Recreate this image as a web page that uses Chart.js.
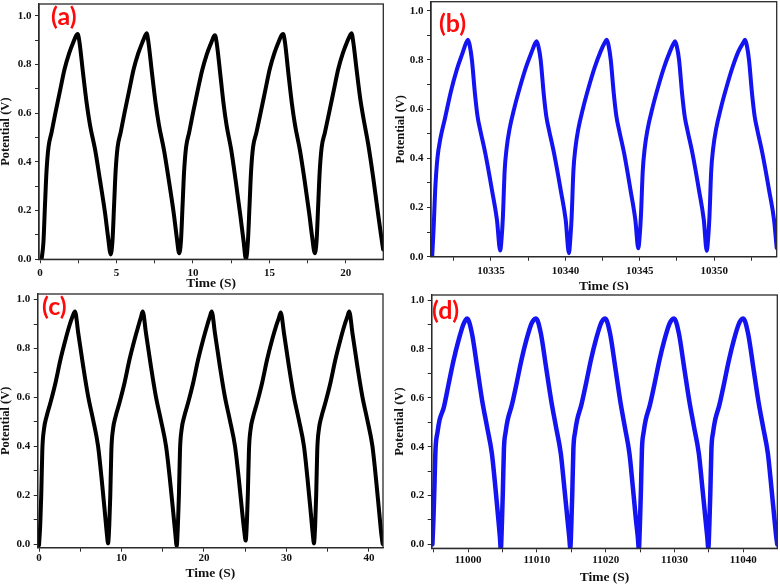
<!DOCTYPE html>
<html><head><meta charset="utf-8">
<script src="https://cdn.jsdelivr.net/npm/chart.js@4.4.0/dist/chart.umd.min.js"></script>
<style>
html,body{margin:0;padding:0;background:#fff;width:780px;height:585px;overflow:hidden;position:relative}
canvas{position:absolute;background:#fff}
</style></head><body>
<canvas id="ca" width="390" height="300" style="left:0;top:0"></canvas>
<canvas id="cb" width="390" height="300" style="left:390px;top:0"></canvas>
<canvas id="cc" width="390" height="295" style="left:0;top:290px"></canvas>
<canvas id="cd" width="390" height="295" style="left:390px;top:290px"></canvas>
<script>
// ---------- Panel (a) ----------
const timeA = [
 0.10,0.22,0.32,0.42,0.55,0.75,1.00,1.30,1.60,1.90,2.20,2.38,2.46,
 2.58,2.80,3.05,3.27,3.60,3.92,4.25,4.45,4.62,
 4.74,4.84,4.94,5.07,5.27,5.52,5.82,6.12,6.42,6.72,6.89,6.97,
 7.09,7.31,7.56,7.78,8.10,8.42,8.74,8.94,9.10,
 9.22,9.32,9.42,9.55,9.75,10.00,10.30,10.60,10.90,11.20,11.36,11.44,
 11.56,11.77,12.00,12.20,12.50,12.80,13.10,13.30,13.47,
 13.60,13.70,13.80,13.93,14.15,14.42,14.72,15.02,15.32,15.62,15.80,15.90,
 16.02,16.23,16.47,16.68,16.99,17.30,17.60,17.80,17.97,
 18.09,18.19,18.29,18.42,18.63,18.90,19.20,19.50,19.80,20.10,20.28,20.37,
 20.49,20.70,20.94,21.15,21.47,21.78,22.10,22.30,22.44
];
const potentialA = [
 0.00,0.07,0.22,0.36,0.46,0.52,0.60,0.69,0.78,0.845,0.895,0.92,0.925,
 0.89,0.77,0.64,0.55,0.45,0.325,0.19,0.09,0.02,
 0.08,0.22,0.36,0.46,0.52,0.60,0.69,0.78,0.845,0.895,0.92,0.928,
 0.89,0.77,0.64,0.55,0.45,0.325,0.19,0.09,0.025,
 0.08,0.22,0.36,0.46,0.52,0.60,0.69,0.775,0.84,0.89,0.915,0.92,
 0.885,0.77,0.64,0.55,0.45,0.32,0.18,0.08,0.00,
 0.08,0.22,0.36,0.46,0.52,0.60,0.69,0.78,0.845,0.895,0.92,0.925,
 0.89,0.77,0.64,0.55,0.45,0.325,0.19,0.09,0.025,
 0.08,0.22,0.36,0.46,0.52,0.60,0.69,0.78,0.845,0.895,0.92,0.928,
 0.89,0.78,0.66,0.58,0.47,0.34,0.19,0.10,0.04
];
const xMajorA = [0,5,10,15,20];
const xMinorA = [2.5,7.5,12.5,17.5];

// ---------- Panel (b) ----------
const timeB = [
 10331.05,10331.15,10331.25,10331.40,10331.60,10331.90,10332.30,10332.70,10333.10,10333.33,10333.45,
 10333.57,10333.72,10333.92,10334.10,10334.28,10334.62,10335.07,10335.40,10335.62,
 10335.72,10335.80,10335.92,10336.05,10336.25,10336.55,10336.95,10337.35,10337.75,10337.97,10338.07,
 10338.19,10338.34,10338.54,10338.72,10338.90,10339.24,10339.69,10340.02,10340.24,
 10340.34,10340.42,10340.54,10340.67,10340.87,10341.17,10341.57,10341.97,10342.37,10342.64,10342.78,
 10342.90,10343.05,10343.25,10343.43,10343.61,10343.95,10344.38,10344.70,10344.90,
 10345.00,10345.08,10345.20,10345.33,10345.53,10345.83,10346.23,10346.63,10347.03,10347.26,10347.37,
 10347.49,10347.64,10347.84,10348.02,10348.20,10348.54,10348.98,10349.30,10349.50,
 10349.60,10349.68,10349.80,10349.93,10350.13,10350.43,10350.83,10351.23,10351.63,10351.95,10352.07,
 10352.19,10352.34,10352.54,10352.72,10352.90,10353.24,10353.69,10354.02,10354.20
];
const potentialB = [
 0.00,0.12,0.27,0.40,0.48,0.56,0.67,0.76,0.83,0.87,0.882,
 0.86,0.80,0.665,0.57,0.515,0.42,0.27,0.15,0.025,
 0.08,0.16,0.35,0.44,0.52,0.60,0.69,0.77,0.835,0.868,0.876,
 0.855,0.80,0.665,0.57,0.515,0.42,0.27,0.15,0.014,
 0.08,0.16,0.35,0.44,0.52,0.60,0.69,0.77,0.835,0.87,0.882,
 0.86,0.80,0.665,0.57,0.515,0.42,0.27,0.15,0.034,
 0.09,0.17,0.35,0.44,0.52,0.60,0.69,0.77,0.835,0.866,0.876,
 0.855,0.80,0.665,0.57,0.515,0.42,0.27,0.15,0.024,
 0.08,0.16,0.35,0.44,0.52,0.60,0.69,0.77,0.835,0.87,0.882,
 0.86,0.80,0.665,0.57,0.515,0.42,0.27,0.15,0.035
];
const xMajorB = [10335,10340,10345,10350];
const xMinorB = [10332.5,10337.5,10342.5,10347.5,10352.5];

// ---------- Panel (c) ----------
const timeC = [
 0.00,0.15,0.27,0.40,0.60,0.90,1.40,2.00,2.60,3.20,3.70,4.05,4.36,
 4.76,5.36,5.96,6.56,7.16,7.58,7.98,8.23,8.37,
 8.52,8.64,8.77,8.97,9.27,9.77,10.37,10.97,11.57,12.07,12.37,12.57,
 12.97,13.57,14.17,14.77,15.40,15.85,16.27,16.53,16.69,
 16.84,16.96,17.09,17.29,17.59,18.09,18.69,19.29,19.89,20.39,20.71,20.93,
 21.33,21.93,22.53,23.13,23.76,24.21,24.63,24.89,25.05,
 25.20,25.32,25.45,25.65,25.95,26.45,27.05,27.65,28.25,28.75,29.08,29.30,
 29.70,30.30,30.90,31.50,32.12,32.54,32.94,33.19,33.33,
 33.48,33.60,33.73,33.93,34.23,34.73,35.33,35.93,36.53,37.03,37.38,37.60,
 38.00,38.60,39.20,39.80,40.42,40.84,41.24,41.50,41.66
];
const potentialC = [
 -0.005,0.08,0.20,0.385,0.47,0.52,0.58,0.66,0.755,0.835,0.895,0.93,0.951,
 0.862,0.726,0.603,0.508,0.40,0.27,0.13,0.04,0.003,
 0.08,0.20,0.385,0.47,0.52,0.58,0.66,0.755,0.835,0.895,0.93,0.951,
 0.862,0.726,0.603,0.508,0.40,0.27,0.13,0.04,-0.008,
 0.08,0.20,0.385,0.47,0.52,0.58,0.66,0.755,0.835,0.895,0.93,0.951,
 0.862,0.726,0.603,0.508,0.40,0.27,0.13,0.05,0.014,
 0.09,0.21,0.385,0.47,0.52,0.58,0.66,0.755,0.835,0.893,0.925,0.947,
 0.862,0.726,0.603,0.508,0.40,0.27,0.13,0.04,0.003,
 0.08,0.20,0.385,0.47,0.52,0.58,0.66,0.755,0.835,0.895,0.93,0.951,
 0.862,0.726,0.603,0.508,0.40,0.27,0.13,0.04,0.00
];
const xMajorC = [0,10,20,30,40];
const xMinorC = [5,15,25,35];

// ---------- Panel (d) ----------
const timeD = [
 10994.80,10994.95,10995.10,10995.25,10995.55,10995.85,10996.45,10997.15,10997.85,10998.60,10999.30,10999.65,10999.85,
 11000.55,11001.30,11002.03,11002.75,11003.45,11003.95,11004.40,11004.62,11004.75,
 11004.90,11005.05,11005.20,11005.45,11005.75,11006.35,11007.05,11007.75,11008.45,11009.15,11009.55,11009.87,
 11010.57,11011.32,11012.07,11012.77,11013.47,11013.97,11014.45,11014.70,11014.85,
 11015.00,11015.15,11015.30,11015.55,11015.85,11016.45,11017.15,11017.85,11018.55,11019.25,11019.62,11019.93,
 11020.63,11021.38,11022.10,11022.78,11023.45,11023.94,11024.40,11024.67,11024.82,
 11024.97,11025.12,11025.27,11025.52,11025.82,11026.42,11027.12,11027.82,11028.52,11029.22,11029.62,11029.94,
 11030.64,11031.39,11032.14,11032.84,11033.54,11034.04,11034.52,11034.77,11034.92,
 11035.07,11035.22,11035.37,11035.62,11035.92,11036.52,11037.22,11037.92,11038.62,11039.32,11039.70,11040.00,
 11040.70,11041.45,11042.18,11042.88,11043.58,11044.08,11044.55,11044.80,11044.95
];
const potentialD = [
 0.00,0.10,0.24,0.386,0.46,0.51,0.56,0.655,0.75,0.835,0.90,0.92,0.925,
 0.864,0.727,0.59,0.481,0.372,0.236,0.10,0.03,-0.02,
 0.08,0.22,0.39,0.46,0.51,0.57,0.66,0.755,0.835,0.90,0.92,0.925,
 0.864,0.727,0.59,0.481,0.372,0.236,0.10,0.03,-0.015,
 0.08,0.22,0.39,0.46,0.51,0.57,0.66,0.755,0.835,0.90,0.92,0.925,
 0.864,0.727,0.59,0.481,0.372,0.236,0.10,0.03,-0.02,
 0.08,0.22,0.39,0.46,0.51,0.57,0.66,0.755,0.835,0.90,0.92,0.925,
 0.864,0.727,0.59,0.481,0.372,0.236,0.10,0.03,-0.015,
 0.08,0.22,0.39,0.46,0.51,0.57,0.66,0.755,0.835,0.90,0.92,0.925,
 0.864,0.727,0.59,0.481,0.372,0.236,0.10,0.03,0.00
];
const xMajorD = [11000,11010,11020,11030,11040];
const xMinorD = [10995,11005,11015,11025,11035];

// ---------- shared y ticks ----------
const yMajor = [0,0.2,0.4,0.6,0.8,1.0];
const yMinor = [0.1,0.3,0.5,0.7,0.9];
const yLabels = ['0.0','0.2','0.4','0.6','0.8','1.0'];

const xTitle = 'Time (S)';
const yTitle = 'Potential (V)';

const AXIS = '#2a2a2a';
const SERIF = '"Liberation Serif", "Times New Roman", serif';

const panelPlugin = {
  id: 'panelDeco',
  afterDraw(chart, args, opts) {
    const {ctx, chartArea: a} = chart;
    ctx.save();
    ctx.strokeStyle = AXIS;
    ctx.lineWidth = 1.3;
    ctx.strokeRect(a.left, a.top, a.right - a.left, a.bottom - a.top);
    ctx.font = 'bold 25px Lato, "Open Sans", sans-serif';
    ctx.fillStyle = '#ff0a0a';
    ctx.textBaseline = 'middle';
    ctx.textAlign = 'left';
    ctx.fillText(opts.text, opts.x, opts.y);
    ctx.restore();
  }
};

function makePanel(id, p) {
  const xTickVals = p.xMajor.concat(p.xMinor).sort((a,b)=>a-b);
  const yTickVals = yMajor.concat(yMinor).sort((a,b)=>a-b);
  const canvas = document.getElementById(id);
  const H = canvas.height, W = canvas.width;
  new Chart(canvas, {
    type: 'line',
    data: {
      datasets: [{
        data: p.time.map((t,i)=>({x:t, y:p.pot[i]})),
        borderColor: p.color,
        borderWidth: p.lw,
        pointRadius: 0,
        fill: false,
        cubicInterpolationMode: 'monotone',
        borderJoinStyle: 'round',
        borderCapStyle: 'round'
      }]
    },
    options: {
      responsive: false,
      animation: false,
      devicePixelRatio: 1,
      layout: { padding: { left: 0, top: p.top, right: W - p.right, bottom: 0 } },
      plugins: {
        legend: { display: false },
        tooltip: { enabled: false },
        panelDeco: { text: p.label, x: p.lx, y: p.ly }
      },
      scales: {
        x: {
          type: 'linear',
          min: p.xMin, max: p.xMax,
          afterBuildTicks: s => { s.ticks = xTickVals.map(v=>({value:v})); },
          afterFit: s => { s.height = H - p.bottom; s.paddingLeft = 0; s.paddingRight = 0; },
          ticks: {
            autoSkip: false, maxRotation: 0, minRotation: 0,
            padding: p.xPad,
            color: '#111',
            font: { family: SERIF, weight: 'bold', size: 11, lineHeight: 1 },
            callback: v => p.xMajor.includes(v) ? String(v) : ''
          },
          grid: { drawOnChartArea: false, drawTicks: true, tickLength: 4, tickColor: AXIS, tickWidth: 1 },
          border: { display: true, color: AXIS, width: 1.3 },
          title: {
            display: true, text: xTitle, color: '#111',
            font: { family: SERIF, weight: 'bold', size: 13.5, lineHeight: 1 },
            padding: { top: 0, bottom: p.xtPad }
          }
        },
        y: {
          type: 'linear',
          min: p.yMin, max: p.yMax,
          afterBuildTicks: s => { s.ticks = yTickVals.map(v=>({value:v})); },
          afterFit: s => { s.width = p.left; s.paddingTop = 0; s.paddingBottom = 0; },
          ticks: {
            autoSkip: false,
            padding: 3.5,
            color: '#111',
            font: { family: SERIF, weight: 'bold', size: 11, lineHeight: 1 },
            callback: v => { const k = yMajor.indexOf(v); return k >= 0 ? yLabels[k] : ''; }
          },
          grid: { drawOnChartArea: false, drawTicks: true, tickLength: 4, tickColor: AXIS, tickWidth: 1 },
          border: { display: true, color: AXIS, width: 1.3 },
          title: {
            display: true, text: yTitle, color: '#111',
            font: { family: SERIF, weight: 'bold', size: 12.5, lineHeight: 1 },
            padding: { top: p.ytPad, bottom: 0 }
          }
        }
      }
    },
    plugins: [panelPlugin]
  });
}

makePanel('ca', { time: timeA, pot: potentialA, color: '#000000', lw: 4,
  xMin: -0.07, xMax: 22.45, yMin: 0, yMax: 1.048, xMajor: xMajorA, xMinor: xMinorA,
  left: 39, top: 4, right: 383.3, bottom: 259.3, xPad: 4, xtPad: 9.5, ytPad: 0,
  label: '(a)', lx: 51, ly: 17 });
makePanel('cb', { time: timeB, pot: potentialB, color: '#1414f2', lw: 4,
  xMin: 10330.97, xMax: 10354.2, yMin: 0, yMax: 1.037, xMajor: xMajorB, xMinor: xMinorB,
  left: 41, top: 1.7, right: 386.7, bottom: 256.7, xPad: 5, xtPad: 6.5, ytPad: 4.5,
  label: '(b)', lx: 49, ly: 24 });
makePanel('cc', { time: timeC, pot: potentialC, color: '#000000', lw: 4,
  xMin: -0.16, xMax: 41.7, yMin: -0.015, yMax: 1.023, xMajor: xMajorC, xMinor: xMinorC,
  left: 37.7, top: 4, right: 383, bottom: 257.7, xPad: 1, xtPad: 4.5, ytPad: 0,
  label: '(c)', lx: 42, ly: 16.5 });
makePanel('cd', { time: timeD, pot: potentialD, color: '#1414f2', lw: 4.5,
  xMin: 10994.7, xMax: 11044.95, yMin: -0.016, yMax: 1.021, xMajor: xMajorD, xMinor: xMinorD,
  left: 41.7, top: 5, right: 387.3, bottom: 258.3, xPad: 2, xtPad: 0.5, ytPad: 3.5,
  label: '(d)', lx: 42, ly: 20.5 });
</script>
</body></html>
